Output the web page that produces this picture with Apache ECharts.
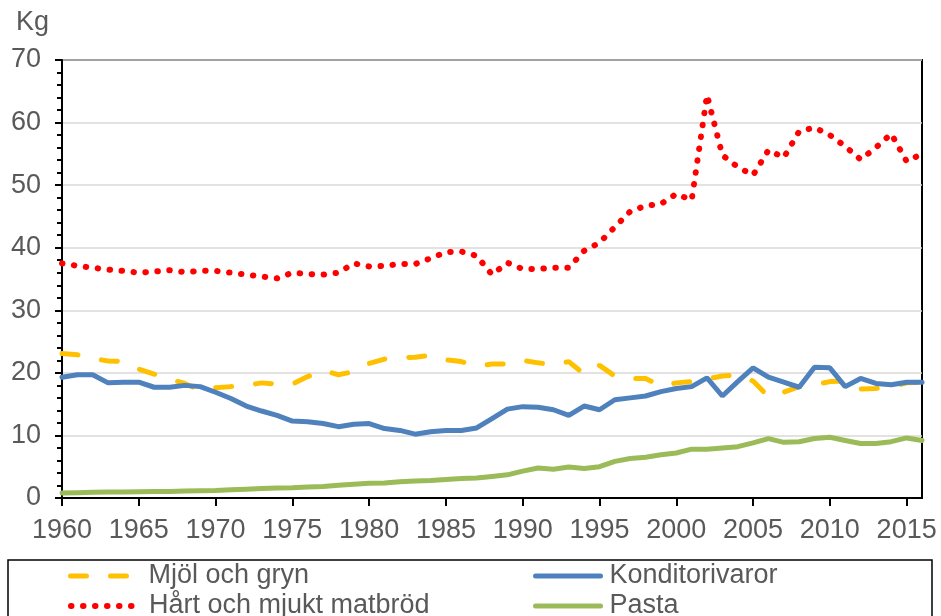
<!DOCTYPE html>
<html>
<head>
<meta charset="utf-8">
<script src="https://cdn.jsdelivr.net/npm/echarts@6/dist/echarts.min.js"></script>
<style>
  html, body { margin: 0; padding: 0; background: #fff; }
  #chart { width: 941px; height: 616px; }
</style>
</head>
<body>
<div id="chart"></div>
<script>
// år 1960-2016
const years = [];
for (let y = 1960; y <= 2016; y++) years.push(String(y));

// Kg per person och år
const mjolOchGryn = [
  23.1, 22.9, 22.3, 21.9, 21.8, 20.6, 19.8, 19.0, 18.3, 17.2,
  17.6, 17.8, 18.0, 18.4, 18.2, 18.2, 19.4, 20.4, 19.7, 20.2,
  21.5, 22.2, 22.4, 22.5, 22.8, 22.1, 21.8, 21.1, 21.4, 21.4,
  22.0, 21.6, 21.3, 21.8, 19.8, 21.2, 19.5, 19.1, 19.1, 17.9,
  18.4, 18.6, 19.0, 19.5, 19.7, 18.7, 16.2, 16.9, 17.8, 18.1,
  18.6, 18.7, 17.4, 17.5, 17.8, 18.4, 18.5
];
const matbrod = [
  37.5, 37.1, 36.8, 36.5, 36.3, 36.0, 36.2, 36.4, 36.1, 36.3,
  36.3, 36.0, 35.7, 35.4, 35.1, 36.0, 35.8, 35.7, 36.0, 37.5,
  37.0, 37.1, 37.4, 37.4, 38.3, 39.3, 39.4, 38.7, 35.7, 37.6,
  36.6, 36.6, 36.8, 36.8, 39.5, 40.8, 43.3, 45.8, 46.7, 47.0,
  48.6, 47.6, 64.4, 54.8, 52.9, 51.6, 55.6, 54.4, 58.6, 59.2,
  58.0, 56.2, 54.1, 56.0, 58.2, 53.8, 55.0
];
const konditorivaror = [
  19.3, 19.7, 19.7, 18.4, 18.5, 18.5, 17.7, 17.7, 18.0, 17.8,
  16.9, 15.9, 14.7, 13.9, 13.2, 12.3, 12.2, 11.9, 11.4, 11.8,
  11.9, 11.1, 10.8, 10.2, 10.6, 10.8, 10.8, 11.2, 12.7, 14.2,
  14.6, 14.5, 14.1, 13.2, 14.7, 14.1, 15.7, 16.0, 16.3, 17.0,
  17.5, 17.8, 19.2, 16.3, 18.6, 20.8, 19.3, 18.5, 17.7, 20.9,
  20.8, 17.8, 19.1, 18.3, 18.1, 18.5, 18.5
];
const pasta = [
  0.8, 0.85, 0.9, 0.95, 0.95, 1.0, 1.05, 1.05, 1.1, 1.15,
  1.2, 1.3, 1.4, 1.5, 1.6, 1.65, 1.75, 1.85, 2.05, 2.2,
  2.35, 2.4, 2.6, 2.7, 2.8, 2.95, 3.1, 3.2, 3.45, 3.7,
  4.3, 4.8, 4.6, 4.95, 4.7, 5.0, 5.85, 6.3, 6.5, 6.9,
  7.2, 7.8, 7.8, 8.0, 8.2, 8.8, 9.5, 8.9, 9.0, 9.5,
  9.7, 9.2, 8.7, 8.7, 9.0, 9.6, 9.2
];

const font = '"Liberation Sans", Arial, sans-serif';
const grey = '#595959';
const fs = 27;

const chart = echarts.init(document.getElementById('chart'));

// en legend per rad, så att ingenting radbryts
function legendAt(left, top, name, gap, lw) {
  return {
    left: left,
    top: top,
    padding: 0,
    itemWidth: 65,
    itemHeight: 14,
    itemStyle: { opacity: 0 },
    lineStyle: { width: lw },
    data: [name],
    textStyle: {
      fontFamily: font,
      fontSize: fs,
      color: grey,
      lineHeight: 30,
      padding: [0, 0, 0, gap]
    }
  };
}

const option = {
  animation: false,
  backgroundColor: '#fff',
  grid: {
    left: 62,
    right: 19,
    top: 60,
    bottom: 118,
    show: true,
    borderColor: '#000',
    borderWidth: 2
  },
  legend: [
    legendAt(68, 561, 'Mjöl och gryn', 8, 5),
    legendAt(68, 591, 'Hårt och mjukt matbröd', 8, 6),
    legendAt(533, 561, 'Konditorivaror', 4, 5),
    legendAt(533, 591, 'Pasta', 4, 5)
  ],
  graphic: [
    {
      type: 'text',
      left: 16,
      top: 9,
      style: { text: 'Kg', fontFamily: font, fontSize: fs, fill: grey }
    },
    {
      type: 'rect',
      shape: { x: 8, y: 560, width: 924, height: 80 },
      style: { fill: 'none', stroke: '#000', lineWidth: 1.5 },
      z: -1
    }
  ],
  xAxis: {
    type: 'category',
    data: years,
    boundaryGap: false,
    axisLine: { lineStyle: { color: '#000', width: 2 } },
    axisTick: { show: true, length: 8, interval: 4, lineStyle: { color: '#000', width: 2 } },
    axisLabel: {
      interval: 4,
      margin: 19,
      fontFamily: font,
      fontSize: fs,
      color: grey
    },
    splitLine: { show: false }
  },
  yAxis: {
    type: 'value',
    min: 0,
    max: 70,
    interval: 10,
    axisLine: { show: true, lineStyle: { color: '#000', width: 2 } },
    axisTick: { show: true, length: 7, lineStyle: { color: '#000', width: 2 } },
    minorTick: { show: true, splitNumber: 5, length: 5, lineStyle: { color: '#000', width: 2 } },
    axisLabel: {
      margin: 21,
      fontFamily: font,
      fontSize: fs,
      color: grey
    },
    splitLine: { lineStyle: { color: '#d9d9d9', width: 1.5 } }
  },
  series: [
    {
      name: 'Mjöl och gryn',
      type: 'line',
      data: mjolOchGryn,
      showSymbol: false,
      color: '#ffc000',
      lineStyle: { color: '#ffc000', width: 5, type: [16, 24], cap: 'round' }
    },
    {
      name: 'Hårt och mjukt matbröd',
      type: 'line',
      data: matbrod,
      showSymbol: false,
      color: '#ff0000',
      lineStyle: { color: '#ff0000', width: 6, type: [0.5, 11.5], cap: 'round' }
    },
    {
      name: 'Konditorivaror',
      type: 'line',
      data: konditorivaror,
      showSymbol: false,
      color: '#4f81bd',
      lineStyle: { color: '#4f81bd', width: 5, cap: 'round' }
    },
    {
      name: 'Pasta',
      type: 'line',
      data: pasta,
      showSymbol: false,
      color: '#9bbb59',
      lineStyle: { color: '#9bbb59', width: 5, cap: 'round' }
    }
  ]
};

chart.setOption(option);
</script>
</body>
</html>
